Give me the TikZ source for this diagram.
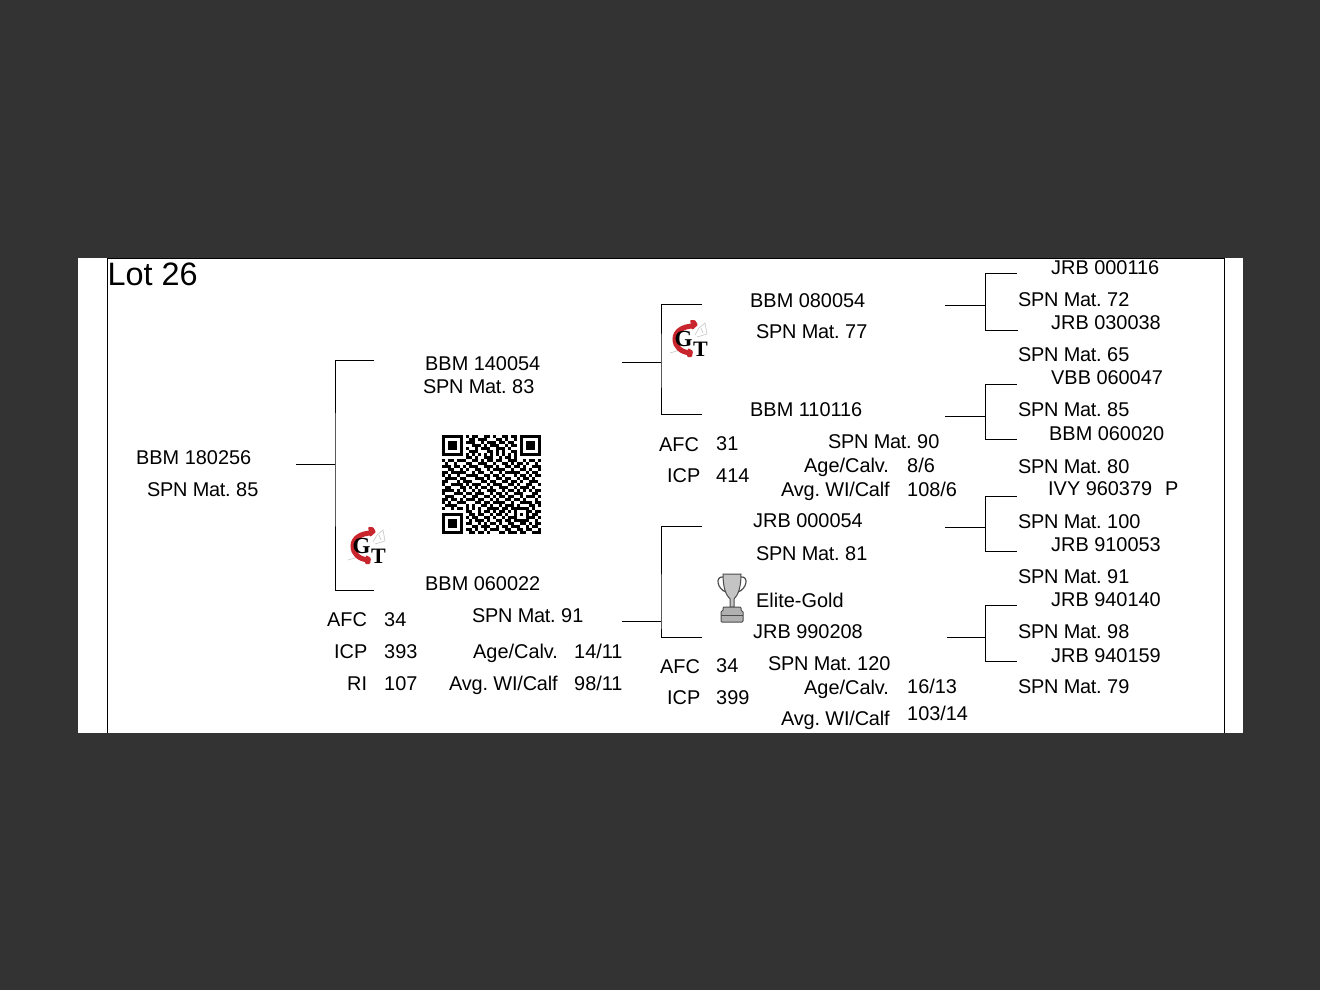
\documentclass[tikz,border=0pt]{standalone}
\usepackage{fontspec}
\setmainfont{Liberation Sans}
\newfontfamily\gtfont{Liberation Serif}
\definecolor{bgdark}{HTML}{333333}
\definecolor{gtred}{HTML}{C9252C}
\definecolor{cupgray}{HTML}{C4C4C4}
\newcount\qrcol
\newcount\qrrow
\def\qrscan#1{\ifx#1.\else\if#11\fill (442+3*\the\qrcol,434.5+3*\the\qrrow) rectangle ++(3,3);\fi\advance\qrcol by 1 \expandafter\qrscan\fi}
\newcommand{\qrline}[1]{\qrcol=0 \qrscan#1.\advance\qrrow by 1 }
\newcommand{\matno}[1]{{\addfontfeature{LetterSpace=-1.4}SPN Mat.} #1}
\newcommand{\avgwi}{{\addfontfeature{LetterSpace=-0.9}Avg. WI/Calf}}
\tikzset{
  lbl/.style={anchor=base west, inner sep=0pt, xshift=-0.3pt, font=\fontsize{19.9}{24}\selectfont\frenchspacing},
  lotlbl/.style={anchor=base west, inner sep=0pt, font=\fontsize{32.4}{36}\selectfont},
  gtlogo/.pic={
    \draw[gray!45, line width=0.6pt] (6,-5) -- (10,-12) -- (16,-17) -- (18,-6) -- (8,-3);
    \draw[gray!45, line width=0.6pt] (12,-12) -- (14,-7) (-19,13) -- (-12,11);
    \draw[gtred, line width=5pt] (5,-14) .. controls (-6,-14) and (-14,-9) .. (-14,-1) .. controls (-14,7) and (-8,12) .. (1,13);
    \fill[gtred, rounded corners=1pt] (1,-20) -- (6,-20) -- (9,-15) -- (3,-10) -- cycle;
    \fill[gtred, rounded corners=1pt] (-1,8) -- (4,11) -- (3,17) -- (-2,17) -- cycle;
    \node[inner sep=0pt, font=\fontsize{23}{23}\gtfont\bfseries] (g) at (-5.5,-1) {G};
    \node[inner sep=0pt, font=\fontsize{22}{22}\gtfont\bfseries] (t) at (11.5,9) {T};
  },
  cuppic/.pic={
    \draw[black!70, line width=1.2pt] (-9,-21) .. controls (-17,-22) and (-15,-9) .. (-6,-6);
    \draw[black!70, line width=1.2pt] (9,-21) .. controls (17,-22) and (15,-9) .. (6,-6);
    \draw[black!70, fill=cupgray, line width=1pt] (-9,-24) -- (9,-24) .. controls (9,-10) and (6,-3) .. (2,1) -- (2,9) -- (-2,9) -- (-2,1) .. controls (-6,-3) and (-9,-10) .. (-9,-24) -- cycle;
    \draw[black!70, fill=cupgray!90!black, line width=1pt, rounded corners=1pt] (-9,9) -- (9,9) -- (9,13) -- (11,13) -- (11,24) -- (-11,24) -- (-11,13) -- (-9,13) -- cycle;
    \draw[black!70, line width=0.8pt] (-11,17) -- (11,17);
  }
}
\begin{document}
\begin{tikzpicture}[x=1pt, y=-1pt, line width=1pt]
\path[use as bounding box, fill=bgdark] (0,0) rectangle (1320,990);
\fill[white] (78,258) rectangle (1243,733);
\draw (107,733) -- (107,258.5) -- (1224,258.5) -- (1224,733);
% sire and dam of lot
\node[lotlbl] (lot) at (107,285) {Lot 26};
\node[lbl] (n0) at (136,464) {BBM 180256};
\node[lbl] (n0m) at (147,496) {\matno{85}};
\node[lbl] (n1) at (425,370) {BBM 140054};
\node[lbl] (n1m) at (423,393) {\matno{83}};
\node[lbl] (n2) at (425,590) {BBM 060022};
\node[lbl] (n2m) at (472,622) {\matno{91}};
\node[lbl] (n2afc) at (327,626) {AFC};
\node[lbl] (n2afcv) at (384,626) {34};
\node[lbl] (n2icp) at (334,658) {ICP};
\node[lbl] (n2icpv) at (384,658) {393};
\node[lbl] (n2ri) at (347,690) {RI};
\node[lbl] (n2riv) at (384,690) {107};
\node[lbl] (n2age) at (473,658) {Age/Calv.};
\node[lbl] (n2agev) at (574,658) {14/11};
\node[lbl] (n2avg) at (449,690) {\avgwi};
\node[lbl] (n2avgv) at (574,690) {98/11};
% third column
\node[lbl] (n3) at (750,307) {BBM 080054};
\node[lbl] (n3m) at (756,338) {\matno{77}};
\node[lbl] (n4) at (750,416) {BBM 110116};
\node[lbl] (n4m) at (828,448) {\matno{90}};
\node[lbl] (n4afc) at (659,451) {AFC};
\node[lbl] (n4afcv) at (716,450) {31};
\node[lbl] (n4icp) at (667,482) {ICP};
\node[lbl] (n4icpv) at (716,482) {414};
\node[lbl] (n4age) at (804,472) {Age/Calv.};
\node[lbl] (n4agev) at (907,472) {8/6};
\node[lbl] (n4avg) at (781,496) {\avgwi};
\node[lbl] (n4avgv) at (907,496) {108/6};
\node[lbl] (n5) at (753,527) {JRB 000054};
\node[lbl] (n5m) at (756,560) {\matno{81}};
\node[lbl] (elite) at (756,607) {Elite-Gold};
\node[lbl] (n6) at (753,638) {JRB 990208};
\node[lbl] (n6m) at (768,670) {\matno{120}};
\node[lbl] (n6afc) at (660,673) {AFC};
\node[lbl] (n6afcv) at (716,672) {34};
\node[lbl] (n6icp) at (667,704) {ICP};
\node[lbl] (n6icpv) at (716,704) {399};
\node[lbl] (n6age) at (804,694) {Age/Calv.};
\node[lbl] (n6agev) at (907,693) {16/13};
\node[lbl] (n6avg) at (781,725) {\avgwi};
\node[lbl] (n6avgv) at (907,720) {103/14};
% last column
\node[lbl] (r1) at (1051,274) {JRB 000116};
\node[lbl] (r1m) at (1018,306) {\matno{72}};
\node[lbl] (r2) at (1051,329) {JRB 030038};
\node[lbl] (r2m) at (1018,361) {\matno{65}};
\node[lbl] (r3) at (1051,384) {VBB 060047};
\node[lbl] (r3m) at (1018,416) {\matno{85}};
\node[lbl] (r4) at (1049,440) {BBM 060020};
\node[lbl] (r4m) at (1018,473) {\matno{80}};
\node[lbl] (r5) at (1048,495) {IVY 960379};
\node[lbl] (r5p) at (1165,495) {P};
\node[lbl] (r5m) at (1018,528) {\matno{100}};
\node[lbl] (r6) at (1051,551) {JRB 910053};
\node[lbl] (r6m) at (1018,583) {\matno{91}};
\node[lbl] (r7) at (1051,606) {JRB 940140};
\node[lbl] (r7m) at (1018,638) {\matno{98}};
\node[lbl] (r8) at (1051,662) {JRB 940159};
\node[lbl] (r8m) at (1018,693) {\matno{79}};
% brackets
\coordinate (s0) at (296,464); \coordinate (j0) at (335,464); \coordinate (t0) at (374,360); \coordinate (u0) at (374,590);
\draw (s0) -- (j0); \draw (t0) -| (j0) |- (u0);
\coordinate (s1) at (622,362); \coordinate (j1) at (661,362); \coordinate (t1) at (702,304); \coordinate (u1) at (702,414);
\draw (s1) -- (j1); \draw (t1) -| (j1) |- (u1);
\coordinate (s2) at (622,621); \coordinate (j2) at (661,621); \coordinate (t2) at (702,526); \coordinate (u2) at (702,637);
\draw (s2) -- (j2); \draw (t2) -| (j2) |- (u2);
\coordinate (s3) at (945,305); \coordinate (j3) at (985,305); \coordinate (t3) at (1017,273); \coordinate (u3) at (1018,330);
\draw (s3) -- (j3); \draw (t3) -| (j3) |- (u3);
\coordinate (s4) at (945,416); \coordinate (j4) at (985,416); \coordinate (t4) at (1017,384); \coordinate (u4) at (1017,439);
\draw (s4) -- (j4); \draw (t4) -| (j4) |- (u4);
\coordinate (s5) at (945,527); \coordinate (j5) at (985,527); \coordinate (t5) at (1017,496); \coordinate (u5) at (1017,551);
\draw (s5) -- (j5); \draw (t5) -| (j5) |- (u5);
\coordinate (s6) at (947,637); \coordinate (j6) at (985,637); \coordinate (t6) at (1017,605); \coordinate (u6) at (1017,661);
\draw (s6) -- (j6); \draw (t6) -| (j6) |- (u6);
% logos and cup
\pic (logoa) at (367,547) {gtlogo};
\pic (logob) at (689,340) {gtlogo};
\pic (cup) at (732,598) {cuppic};
% qr code
\qrrow=0
\qrline{1111111 0 10110011010011011 0 1111111}
\qrline{1000001 0 01101110001101001 0 1000001}
\qrline{1011101 0 11100101110110110 0 1011101}
\qrline{1011101 0 00111010111001011 0 1011101}
\qrline{1011101 0 10010111001110100 0 1011101}
\qrline{1000001 0 01110001101010011 0 1000001}
\qrline{1111111 0 10101010101010101 0 1111111}
\qrline{0000000 0 11010011100101101 0 0000000}
\qrline{10110111001 10101101100 11100101101}
\qrline{01001000110 01110010011 01011010010}
\qrline{11101101011 10011101001 10110100111}
\qrline{00110010100 11001011110 01001101001}
\qrline{11011111001 01100100101 11110010110}
\qrline{10100100111 10011011010 00101101011}
\qrline{01111011000 11101001101 10010110100}
\qrline{11000101110 00110110011 01101001110}
\qrline{10011110101 11001011100 11010011001}
\qrline{01100011010 10110100111 00101110100}
\qrline{11110101001 01001110010 11010101011}
\qrline{10001110110 11100101101 00111000110}
\qrline{01110001001 10011010110 11001011101}
\qrline{11011010111 01100101001 10110100010}
\qrline{10100111000 11011011110 01001111011}
\qrline{01111000101 00110100101 11010001101}
\qrline{100101101010100111101101 11111 0100}
\qrline{00000000 1100101101011010 10001 1011}
\qrline{11111110 0110110010110100 10101 0110}
\qrline{10000010 1011001101001011 10001 1101}
\qrline{10111010 0101110100110110 11111 0010}
\qrline{10111010 1100101011010011 001101011}
\qrline{10111010 0011011100101101 110010110}
\qrline{10000010 1101001011100110 011011001}
\qrline{11111110 0110110100011011 101100111}
\end{tikzpicture}
\end{document}
